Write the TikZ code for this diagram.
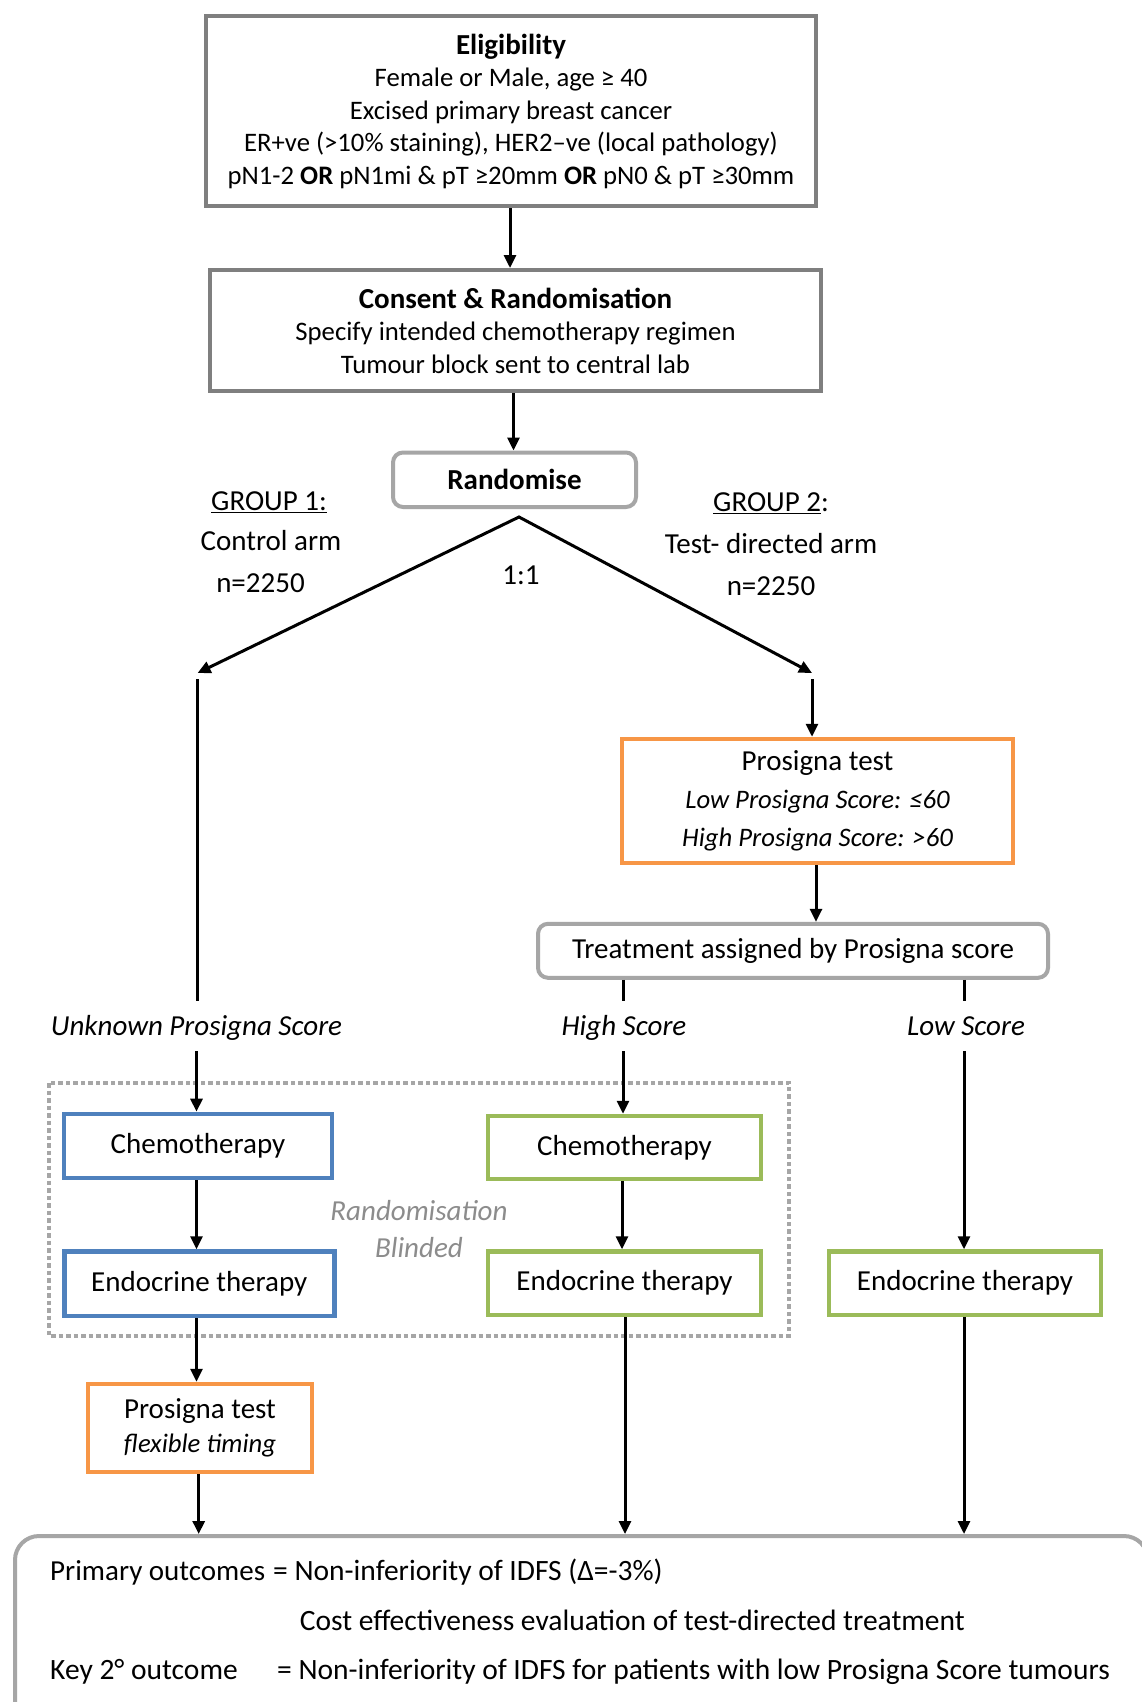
\documentclass[tikz,border=0pt]{standalone}
\usepackage{fontspec}
\setmainfont{Carlito}
\usetikzlibrary{arrows.meta}
\definecolor{boxgray}{HTML}{7F7F7F}
\definecolor{lgray}{HTML}{A6A6A6}
\definecolor{cblue}{HTML}{4F81BD}
\definecolor{cgreen}{HTML}{9BBB59}
\definecolor{corange}{HTML}{F79646}
\definecolor{tgray}{HTML}{8C8C8C}
\begin{document}
\begin{tikzpicture}[x=1pt,y=-1pt,
  base/.style={draw, line width=4pt, inner sep=0pt, align=center, fill=white},
  mainbox/.style={base, draw=boxgray, font=\fontsize{26.7}{32.5}\selectfont},
  roundbox/.style={base, draw=lgray, rounded corners=10pt, font=\fontsize{29}{35}\selectfont},
  bluebox/.style={base, draw=cblue, line width=4.5pt, font=\fontsize{29}{35}\selectfont},
  greenbox/.style={base, draw=cgreen, line width=4.5pt, font=\fontsize{29}{35}\selectfont},
  orangebox/.style={base, draw=corange, line width=4.5pt, font=\fontsize{29}{38}\selectfont},
  arr/.style={line width=3pt, -{Triangle[length=13pt,width=12pt]}},
  arrboth/.style={line width=3pt, miter limit=20, {Triangle[length=13pt,width=12pt]}-{Triangle[length=13pt,width=12pt]}},
  ln/.style={line width=3pt},
  lbl/.style={font=\fontsize{29}{35}\selectfont, inner sep=0pt, anchor=base},
  outl/.style={font=\fontsize{29.5}{35}\selectfont, inner sep=0pt, anchor=base west},
]
\useasboundingbox (0,0) rectangle (1142,1702);
\fill[white] (0,0) rectangle (1142,1702);

% boxes
\node[mainbox, minimum width=610pt, minimum height=190pt] (elig) at (511,111)
  {{\fontsize{29}{32.5}\selectfont\bfseries Eligibility}\\ Female or Male, age ≥ 40\\ Excised primary breast cancer\\
   ER+ve (>10\% staining), HER2–ve (local pathology)\\
   pN1-2 \textbf{OR} pN1mi \& pT ≥20mm \textbf{OR} pN0 \& pT ≥30mm};
\node[mainbox, minimum width=611pt, minimum height=121pt] (cons) at (515.5,330.5)
  {{\fontsize{29}{32.5}\selectfont\bfseries Consent \& Randomisation}\\ Specify intended chemotherapy regimen\\ Tumour block sent to central lab};
\node[roundbox, minimum width=243pt, minimum height=54.5pt] (rand) at (514.5,479.75) {\textbf{Randomise}};
\node[orangebox, minimum width=391pt, minimum height=124pt] (pros) at (817.5,801)
  {Prosigna test\\ {\fontsize{26.7}{38}\selectfont\itshape Low Prosigna Score: ≤60}\\ {\fontsize{26.7}{38}\selectfont\itshape High Prosigna Score: >60}};
\node[roundbox, minimum width=510pt, minimum height=54pt] (treat) at (793,950.8) {Treatment assigned by Prosigna score};

% dotted blinded region
\draw[lgray, line width=4pt, dash pattern=on 4.5pt off 3pt] (48.7,1083) rectangle (789.4,1335.5);
\node[font=\fontsize{29}{37}\selectfont\itshape, text=tgray, align=center, inner sep=0pt] (blind) at (419,1229) {Randomisation\\ Blinded};

\node[bluebox, minimum width=268pt, minimum height=64pt] (chemoA) at (198,1145.9) {Chemotherapy};
\node[bluebox, minimum width=270pt, minimum height=64.5pt] (endoA) at (199.25,1283.75) {Endocrine therapy};
\node[greenbox, minimum width=273pt, minimum height=63pt] (chemoB) at (624.5,1147.5) {Chemotherapy};
\node[greenbox, minimum width=273pt, minimum height=63.5pt] (endoB) at (624.5,1283.25) {Endocrine therapy};
\node[greenbox, minimum width=272pt, minimum height=63.5pt] (endoC) at (965,1283.25) {Endocrine therapy};
\node[orangebox, minimum width=224pt, minimum height=88pt, font=\fontsize{29}{33.5}\selectfont] (prosB) at (200,1428)
  {Prosigna test\\ {\fontsize{26.7}{33.5}\selectfont\itshape flexible timing}};

\node[base, draw=lgray, rounded corners=24pt, minimum width=1133pt, minimum height=226pt, anchor=north west] (outc) at (13,1534) {};

% labels
\node[lbl] (g1) at (269,510.5) {\underline{GROUP 1:}};
\node[lbl] (g1a) at (271,550.7) {Control arm};
\node[lbl] (g1n) at (260.5,592) {n=2250};
\node[lbl] (g2) at (771,511.6) {\underline{GROUP 2}:};
\node[lbl] (g2a) at (771,553) {Test- directed arm};
\node[lbl] (g2n) at (771,595) {n=2250};
\node[lbl] (ratio) at (521,584) {1:1};
\node[lbl, font=\fontsize{29}{35}\selectfont\itshape] (unk) at (196.5,1035) {Unknown Prosigna Score};
\node[lbl, font=\fontsize{29}{35}\selectfont\itshape] (hs) at (624,1035) {High Score};
\node[lbl, font=\fontsize{29}{35}\selectfont\itshape] (ls) at (966,1035) {Low Score};

\node[outl, font=\fontsize{29}{35}\selectfont] (o1) at (50,1580) {Primary outcomes};
\node[outl] (o1b) at (273,1580) {= Non-inferiority of IDFS (Δ=-3\%)};
\node[outl] (o2) at (299.6,1630) {Cost effectiveness evaluation of test-directed treatment};
\node[outl] (o3) at (50,1679) {Key 2° outcome};
\node[outl] (o3b) at (277,1679) {= Non-inferiority of IDFS for patients with low Prosigna Score tumours};

% coordinates
\coordinate (apex) at (519,517);
\coordinate (lt) at (197.6,673);
\coordinate (rt) at (812,673);
\coordinate (l1) at (197.6,679);
\coordinate (l2) at (197.6,1001);
\coordinate (l3) at (196.5,1051);
\coordinate (r1) at (812,679);
\coordinate (p1) at (816,865);
\coordinate (hA) at (623,1001);
\coordinate (hB) at (623,1051);
\coordinate (lA) at (964,1001);
\coordinate (lB) at (964,1051);
\coordinate (e1) at (196.5,0);
\coordinate (e2) at (622,0);
\coordinate (e3) at (198.7,0);
\coordinate (e4) at (625,0);
\coordinate (e5) at (964,0);

% connectors
\draw[arr] (elig.south -| 510,0) -- (510,0 |- cons.north);
\draw[arr] (cons.south -| 513.5,0) -- (513.5,0 |- rand.north);
\draw[arrboth] (lt) -- (apex) -- (rt);
\draw[ln] (l1) -- (l2);
\draw[arr] (l3) -- (l3 |- chemoA.north);
\draw[arr] (r1) -- (r1 |- pros.north);
\draw[arr] (p1) -- (p1 |- treat.north);
\draw[ln] (hA |- treat.south) -- (hA);
\draw[ln] (lA |- treat.south) -- (lA);
\draw[arr] (hB) -- (hB |- chemoB.north);
\draw[arr] (lB) -- (lB |- endoC.north);
\draw[arr] (e1 |- chemoA.south) -- (e1 |- endoA.north);
\draw[arr] (e2 |- chemoB.south) -- (e2 |- endoB.north);
\draw[arr] (e1 |- endoA.south) -- (e1 |- prosB.north);
\draw[arr] (e3 |- prosB.south) -- (e3 |- outc.north);
\draw[arr] (e4 |- endoB.south) -- (e4 |- outc.north);
\draw[arr] (e5 |- endoC.south) -- (e5 |- outc.north);
\end{tikzpicture}
\end{document}
